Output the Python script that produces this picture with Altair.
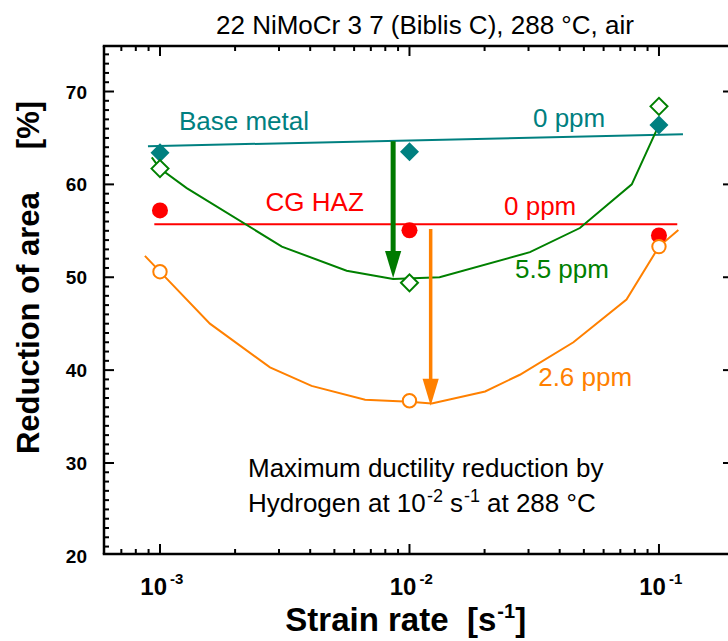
import altair as alt
import pandas as pd

FONT = "Liberation Sans"

# plot area (pixels) and axis ranges
W, H = 624, 508
X_DOMAIN = [5.965e-4, 0.1891]
Y_DOMAIN = [20.2, 74.9]

TEAL = "#008080"
GREEN = "#008000"
RED = "#ff0000"
ORANGE = "#ff8000"

# measured points: strain rate [1/s] vs reduction of area [%]
rates = [1e-3, 1e-2, 1e-1]
ra_base_metal = [63.4, 63.5, 66.4]
ra_cg_haz = [57.2, 55.05, 54.5]
ra_h_5_5 = [61.7, 49.4, 68.4]
ra_h_2_6 = [50.6, 36.7, 53.3]

# trend lines
base_fit_rate = [8.95e-4, 0.1248]
base_fit_ra = [64.1, 65.4]
haz_fit_rate = [9.49e-4, 0.1184]
haz_fit_ra = [55.7, 55.7]

h55_curve_rate = [9.27e-4, 1.0e-3, 1.28e-3, 3.08e-3, 5.6e-3, 8.6e-3,
                  1.32e-2, 3.04e-2, 4.82e-2, 7.78e-2, 1.0e-1]
h55_curve_ra = [62.9, 61.7, 59.6, 53.3, 50.7, 49.8,
                50.0, 52.7, 55.3, 60.0, 66.4]

h26_curve_rate = [8.7e-4, 1.0e-3, 1.585e-3, 2.76e-3, 4.05e-3, 6.64e-3, 1.0e-2,
                  1.228e-2, 2.01e-2, 2.77e-2, 4.54e-2, 7.41e-2, 1.0e-1, 1.196e-1]
h26_curve_ra = [52.3, 50.6, 45.0, 40.3, 38.3, 36.8, 36.6,
                36.4, 37.7, 39.5, 43.0, 47.6, 53.3, 55.1]

# ductility-loss arrows
arrow_rate = [8.6e-3, 0.01216]
arrow_top = [64.65, 55.2]
arrow_tip = [49.93, 36.16]
arrow_color = ["#007a00", ORANGE]
arrow_width = [5, 3.5]

# axis ticks and labels
x_major = [1e-3, 1e-2, 1e-1]
x_minor = [7e-4, 8e-4, 9e-4,
           2e-3, 3e-3, 4e-3, 5e-3, 6e-3, 7e-3, 8e-3, 9e-3,
           2e-2, 3e-2, 4e-2, 5e-2, 6e-2, 7e-2, 8e-2, 9e-2]
x_label_exp = ["-3", "-2", "-1"]
y_major = [30, 40, 50, 60, 70]
y_minor = [v for v in range(21, 75) if v % 10 != 0]
y_labels = [20, 30, 40, 50, 60, 70]

Y_TITLE = "Reduction of area\u00a0\u00a0\u00a0\u00a0 [%]"

# text pieces: text, x, y, dx, dy, size, weight, color
notes = [
    ("22 NiMoCr 3 7 (Biblis C), 288 °C, air", 1.677e-3, 76.14, 0, 0, 26, "normal", "black"),
    ("Base metal", 1.191e-3, 65.83, 0, 0, 26, "normal", TEAL),
    ("0 ppm", 0.03126, 66.2, 0, 0, 26, "normal", TEAL),
    ("CG HAZ", 2.65e-3, 57.1, 0, 0, 26, "normal", RED),
    ("0 ppm", 0.02393, 56.75, 0, 0, 26, "normal", RED),
    ("5.5 ppm", 0.02648, 49.92, 0, 0, 26, "normal", GREEN),
    ("2.6 ppm", 0.0328, 38.24, 0, 0, 26, "normal", ORANGE),
    ("Maximum ductility reduction by", 2.253e-3, 28.51, 0, 0, 26, "normal", "black"),
    ("Hydrogen at 10", 2.253e-3, 24.77, 0, 0, 26, "normal", "black"),
    ("-2", 2.253e-3, 24.77, 179, -10, 18, "normal", "black"),
    ("s", 2.253e-3, 24.77, 202, 0, 26, "normal", "black"),
    ("-1", 2.253e-3, 24.77, 216, -10, 18, "normal", "black"),
    ("at 288 °C", 2.253e-3, 24.77, 239, 0, 26, "normal", "black"),
    # x axis title
    ("Strain rate \u00a0[s", 3.18e-3, 11.9, 0, 0, 33, "bold", "black"),
    ("-1", 3.18e-3, 11.9, 212, -13, 20, "bold", "black"),
    ("]", 3.18e-3, 11.9, 230, 0, 33, "bold", "black"),
]

xs = alt.Scale(type="log", domain=X_DOMAIN, nice=False)
ys = alt.Scale(domain=Y_DOMAIN, nice=False, zero=False)


def X(field):
    return alt.X(field, type="quantitative", scale=xs, axis=None)


def Y(field):
    return alt.Y(field, type="quantitative", scale=ys, axis=None)


layers = []
one = pd.DataFrame({"k": [0]})

# frame: top, left and bottom borders
layers.append(alt.Chart(one).mark_rule(color="black", strokeWidth=2.5).encode(
    x=alt.value(-1.25), x2=alt.value(W), y=alt.value(0)))
layers.append(alt.Chart(one).mark_rule(color="black", strokeWidth=2.5).encode(
    x=alt.value(-1.25), x2=alt.value(W), y=alt.value(H)))
layers.append(alt.Chart(one).mark_rule(color="black", strokeWidth=2.5).encode(
    x=alt.value(0), y=alt.value(0), y2=alt.value(H)))

# inward ticks
for vals, length in ((x_major, 10), (x_minor, 5)):
    tdf = pd.DataFrame({"rate": vals})
    layers.append(alt.Chart(tdf).mark_rule(color="black", strokeWidth=2).encode(
        x=X("rate"), y=alt.value(H), y2=alt.value(H - length)))
    layers.append(alt.Chart(tdf).mark_rule(color="black", strokeWidth=2).encode(
        x=X("rate"), y=alt.value(0), y2=alt.value(length)))
for vals, length in ((y_major, 10), (y_minor, 5)):
    tdf = pd.DataFrame({"ra": vals})
    layers.append(alt.Chart(tdf).mark_rule(color="black", strokeWidth=2).encode(
        y=Y("ra"), x=alt.value(0), x2=alt.value(length)))
layers.append(alt.Chart(pd.DataFrame({"ra": y_major})).mark_rule(
    color="black", strokeWidth=2).encode(
    y=Y("ra"), x=alt.value(W - 5), x2=alt.value(W)))

# y tick labels and title
layers.append(alt.Chart(pd.DataFrame({"ra": y_labels})).mark_text(
    align="right", baseline="middle", dx=-17, dy=1, font=FONT, fontSize=19,
    fontWeight="bold", color="black").encode(
    y=Y("ra"), x=alt.value(0), text="ra:Q"))
layers.append(alt.Chart(pd.DataFrame({"t": [Y_TITLE]})).mark_text(
    align="center", baseline="alphabetic", angle=270, font=FONT, fontSize=31,
    fontWeight="bold", color="black").encode(
    x=alt.value(-65), y=alt.value(231.5), text="t:N"))

# x tick labels: 10 with a raised exponent
xl = pd.DataFrame({"rate": x_major, "exp": x_label_exp, "base": ["10"] * 3})
layers.append(alt.Chart(xl).mark_text(
    align="right", baseline="alphabetic", dx=7, dy=0, font=FONT, fontSize=24,
    fontWeight="bold", color="black").encode(
    x=X("rate"), y=alt.value(H + 41), text="base:N"))
layers.append(alt.Chart(xl).mark_text(
    align="left", baseline="alphabetic", dx=10, dy=0, font=FONT, fontSize=15,
    fontWeight="bold", color="black").encode(
    x=X("rate"), y=alt.value(H + 30), text="exp:N"))

# trend lines
for r, v, c in ((base_fit_rate, base_fit_ra, TEAL),
                (haz_fit_rate, haz_fit_ra, RED),
                (h55_curve_rate, h55_curve_ra, GREEN),
                (h26_curve_rate, h26_curve_ra, ORANGE)):
    ldf = pd.DataFrame({"rate": r, "ra": v, "i": list(range(len(r)))})
    layers.append(alt.Chart(ldf).mark_line(color=c, strokeWidth=2).encode(
        x=X("rate"), y=Y("ra"), order="i:Q"))

# arrows: shaft + head
ARROW_HEAD = "M -0.6 -2 L 0.6 -2 L 0 0 Z"
for i in range(len(arrow_rate)):
    adf = pd.DataFrame({"rate": [arrow_rate[i]], "top": [arrow_top[i]],
                        "neck": [arrow_tip[i] + 1.5], "tip": [arrow_tip[i]]})
    layers.append(alt.Chart(adf).mark_rule(
        color=arrow_color[i], strokeWidth=arrow_width[i]).encode(
        x=X("rate"), y=Y("top"), y2="neck:Q"))
    layers.append(alt.Chart(adf).mark_point(
        shape=ARROW_HEAD, filled=True, size=729, opacity=1,
        color=arrow_color[i]).encode(x=X("rate"), y=Y("tip")))


# measured points
def pts(vals):
    return pd.DataFrame({"rate": rates, "ra": vals})


layers.append(alt.Chart(pts(ra_base_metal)).mark_point(
    shape="diamond", filled=True, size=361, opacity=1, color=TEAL).encode(
    x=X("rate"), y=Y("ra")))
layers.append(alt.Chart(pts(ra_cg_haz)).mark_point(
    shape="circle", filled=True, size=256, opacity=1, color=RED).encode(
    x=X("rate"), y=Y("ra")))
layers.append(alt.Chart(pts(ra_h_5_5)).mark_point(
    shape="diamond", filled=True, fill="white", stroke=GREEN, strokeWidth=2,
    size=290, opacity=1).encode(x=X("rate"), y=Y("ra")))
layers.append(alt.Chart(pts(ra_h_2_6)).mark_point(
    shape="circle", filled=True, fill="white", stroke=ORANGE, strokeWidth=2,
    size=180, opacity=1).encode(x=X("rate"), y=Y("ra")))

# text
for text, x, y, dx, dy, size, weight, color in notes:
    tdf = pd.DataFrame({"rate": [x], "ra": [y], "t": [text]})
    layers.append(alt.Chart(tdf).mark_text(
        align="left", baseline="alphabetic", dx=dx, dy=dy, font=FONT,
        fontSize=size, fontWeight=weight, color=color).encode(
        x=X("rate"), y=Y("ra"), text="t:N"))

chart = alt.layer(*layers).properties(
    width=W, height=H,
    padding={"left": 104, "top": 46, "right": 0, "bottom": 87},
    autosize=alt.AutoSizeParams(type="none"),
    background="white",
).configure_view(stroke=None)

chart.save("out.html", embed_options={"renderer": "svg", "actions": False})
